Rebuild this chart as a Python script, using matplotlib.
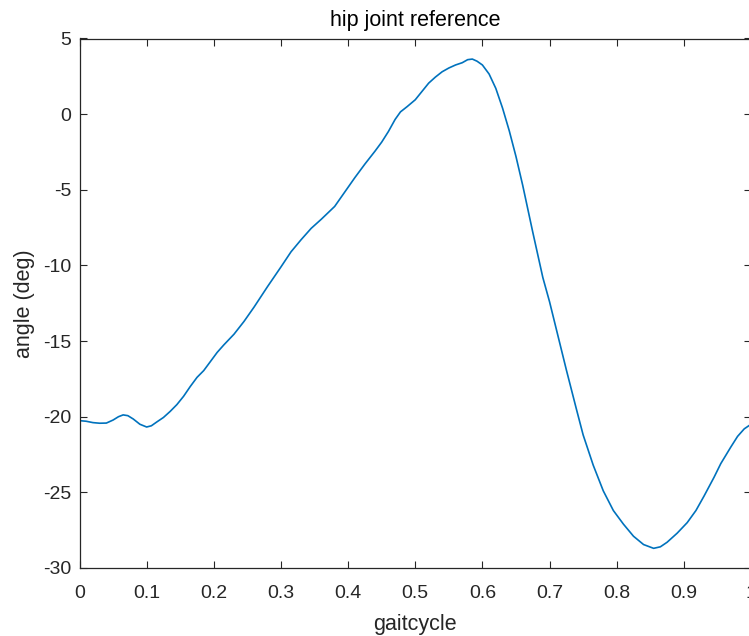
import numpy as np
import matplotlib
matplotlib.use("Agg")
import matplotlib.pyplot as plt

gait = [0.000, 0.010, 0.020, 0.030, 0.040, 0.050, 0.058, 0.065, 0.072, 0.080,
        0.090, 0.100, 0.107, 0.115, 0.125, 0.135, 0.145, 0.155, 0.165, 0.175,
        0.185, 0.195, 0.205, 0.215, 0.230, 0.245, 0.260, 0.280, 0.300, 0.315,
        0.330, 0.345, 0.360, 0.380, 0.395, 0.410, 0.425, 0.440, 0.450, 0.460,
        0.470, 0.478, 0.488, 0.500, 0.510, 0.520, 0.530, 0.540, 0.550, 0.560,
        0.570, 0.578, 0.585, 0.592, 0.600, 0.610, 0.620, 0.630, 0.640, 0.650,
        0.660, 0.675, 0.690, 0.700, 0.715, 0.725, 0.740, 0.750, 0.765, 0.780,
        0.795, 0.810, 0.825, 0.840, 0.855, 0.865, 0.875, 0.890, 0.905, 0.918,
        0.930, 0.945, 0.955, 0.970, 0.980, 0.990, 1.000]
angle = [-20.26, -20.30, -20.39, -20.43, -20.42, -20.22, -20.00, -19.88, -19.93, -20.15,
         -20.50, -20.68, -20.60, -20.35, -20.05, -19.65, -19.20, -18.65, -18.00, -17.40,
         -16.95, -16.35, -15.75, -15.25, -14.55, -13.70, -12.75, -11.40, -10.10, -9.10,
         -8.30, -7.55, -6.95, -6.10, -5.15, -4.20, -3.30, -2.45, -1.85, -1.15,
         -0.35, 0.15, 0.50, 0.95, 1.50, 2.05, 2.45, 2.80, 3.05, 3.25,
         3.40, 3.60, 3.64, 3.50, 3.25, 2.65, 1.70, 0.40, -1.10, -2.80,
         -4.70, -7.80, -10.80, -12.40, -15.10, -16.90, -19.50, -21.20, -23.20, -24.90,
         -26.20, -27.10, -27.90, -28.45, -28.70, -28.60, -28.30, -27.70, -27.00, -26.20,
         -25.25, -24.00, -23.10, -22.00, -21.30, -20.80, -20.50]

xticks = [0, 0.1, 0.2, 0.3, 0.4, 0.5, 0.6, 0.7, 0.8, 0.9, 1]
xticklabels = ["0", "0.1", "0.2", "0.3", "0.4", "0.5", "0.6", "0.7", "0.8", "0.9", "1"]
yticks = [5, 0, -5, -10, -15, -20, -25, -30]
yticklabels = ["5", "0", "-5", "-10", "-15", "-20", "-25", "-30"]

plt.rcParams['font.family'] = ['Liberation Sans', 'DejaVu Sans']
dark = '#262626'

fig = plt.figure(figsize=(7.49, 6.36), dpi=100)
ax = fig.add_axes([79.5/749, 68/636, (751-79.5)/749, (568-38.5)/636])
ax.plot(gait, angle, color='#0072BD', lw=1.2)
ax.set_xlim(0, 1)
ax.set_ylim(-30, 5)
ax.set_xticks(xticks)
ax.set_xticklabels(xticklabels)
ax.set_yticks(yticks)
ax.set_yticklabels(yticklabels)
ax.tick_params(direction='in', length=5, width=0.8, colors=dark, labelsize=14,
               top=True, right=True)
ax.tick_params(axis='x', pad=12)
ax.tick_params(axis='y', pad=6)
for s in ax.spines.values():
    s.set_color(dark)
    s.set_linewidth(0.9)
ax.set_title("hip joint reference", fontsize=15.5, color='black', pad=9)
ax.set_xlabel("gaitcycle", fontsize=15.5, color=dark, labelpad=9)
ax.set_ylabel("angle (deg)", fontsize=15.5, color=dark, labelpad=6)
fig.savefig("out.png", dpi=100)
